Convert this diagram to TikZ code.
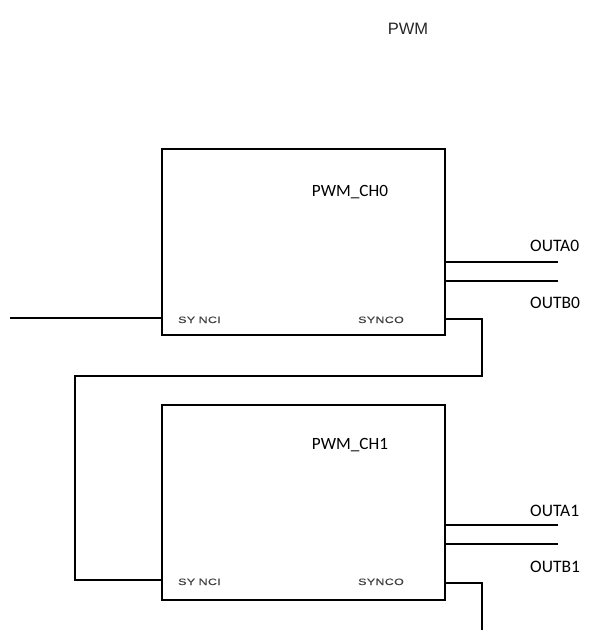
\documentclass[tikz,border=0pt]{standalone}
\usepackage{fontspec}
\setmainfont{Liberation Sans}
\newfontfamily\calfont{Carlito}
\newfontfamily\pinfont[FakeStretch=1.35,LetterSpace=4,FakeBold=0.6]{Liberation Sans}
\begin{document}
\begin{tikzpicture}[x=1pt,y=-1pt,
  chbox/.style={draw,line width=2.6pt,minimum width=283pt,inner sep=0pt},
  wire/.style={line width=2.4pt},
  pin/.style={font=\pinfont\fontsize{9.2}{10}\selectfont,text=black!75,anchor=base west,inner sep=0pt},
  title/.style={font=\fontsize{16.5}{18}\selectfont,text=black!85,anchor=base,inner sep=0pt},
  sig/.style={font=\calfont\fontsize{17.5}{19}\selectfont,anchor=base west,inner sep=0pt},
  sigc/.style={font=\calfont\fontsize{17.2}{19}\selectfont,anchor=base,inner sep=0pt}]
\useasboundingbox (0,0) rectangle (612,630);
\node[title] (pwm) at (408,34) {PWM};
% channel 0
\node[chbox,minimum height=186pt] (ch0) at (303.5,242) {};
\node[sigc] (n0) at (350,196) {PWM\_CH0};
\node[pin] (si0) at (178,323) {SY\kern3.5pt NCI};
\node[pin] (so0) at (358,323) {SYNCO};
\coordinate (ain0) at (10,318);
\coordinate (oa0) at (558,262);
\coordinate (ob0) at (558,281);
\node[sig] (la0) at (530,251) {OUTA0};
\node[sig] (lb0) at (530,308) {OUTB0};
\draw[wire] (ain0) -- (ain0 -| ch0.west);
\draw[wire] (oa0 -| ch0.east) -- (oa0);
\draw[wire] (ob0 -| ch0.east) -- (ob0);
% channel 1
\node[chbox,minimum height=195pt] (ch1) at (303.5,502.5) {};
\node[sigc] (n1) at (350,449) {PWM\_CH1};
\node[pin] (si1) at (178,585) {SY\kern3.5pt NCI};
\node[pin] (so1) at (358,585) {SYNCO};
\coordinate (oa1) at (558,525);
\coordinate (ob1) at (558,544);
\node[sig] (la1) at (530,516) {OUTA1};
\node[sig] (lb1) at (530,572) {OUTB1};
\draw[wire] (oa1 -| ch1.east) -- (oa1);
\draw[wire] (ob1 -| ch1.east) -- (ob1);
% sync chain
\coordinate (s0) at (445,319);
\coordinate (s1) at (445,583);
\coordinate (c1) at (482,376);
\coordinate (c2) at (75,580);
\coordinate (endv) at (482,630);
\draw[wire] (s0) -| (c1) -| (c2) -- (c2 -| ch1.west);
\draw[wire] (s1) -| (endv);
\end{tikzpicture}
\end{document}
